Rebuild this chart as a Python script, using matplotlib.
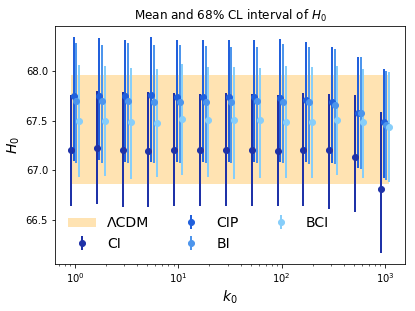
import numpy as np
import matplotlib
matplotlib.use('Agg')
import matplotlib.pyplot as plt

# k0 grid (13 points, log spaced)
k0 = 10 ** np.arange(0, 3.01, 0.25)

# LCDM band
lcdm_low = 66.86
lcdm_high = 67.96

# CI
ci_mean = [67.20, 67.22, 67.20, 67.19, 67.20, 67.20, 67.20, 67.20, 67.19, 67.20, 67.20, 67.13, 66.81]
ci_low = [66.64, 66.66, 66.63, 66.63, 66.64, 66.64, 66.64, 66.64, 66.64, 66.64, 66.61, 66.58, 66.16]
ci_high = [67.76, 67.80, 67.79, 67.79, 67.78, 67.77, 67.78, 67.77, 67.76, 67.78, 67.77, 67.76, 67.59]

# CIP
cip_mean = [67.75, 67.75, 67.75, 67.76, 67.74, 67.74, 67.74, 67.74, 67.73, 67.71, 67.69, 67.58, 67.49]
cip_low = [67.09, 67.10, 67.08, 67.08, 67.08, 67.08, 67.08, 67.08, 67.08, 67.08, 67.07, 67.02, 66.92]
cip_high = [68.35, 68.34, 68.32, 68.35, 68.32, 68.32, 68.32, 68.32, 68.33, 68.30, 68.25, 68.15, 68.02]

# BI
bi_mean = [67.70, 67.70, 67.70, 67.69, 67.69, 67.69, 67.69, 67.70, 67.69, 67.69, 67.66, 67.58, 67.46]
bi_low = [67.07, 67.07, 67.07, 67.07, 67.07, 67.07, 67.07, 67.07, 67.07, 67.06, 67.06, 67.01, 66.90]
bi_high = [68.29, 68.27, 68.29, 68.27, 68.27, 68.26, 68.25, 68.25, 68.28, 68.25, 68.23, 68.15, 68.00]

# BCI
bci_mean = [67.50, 67.50, 67.49, 67.48, 67.52, 67.51, 67.51, 67.51, 67.49, 67.49, 67.51, 67.49, 67.44]
bci_low = [66.93, 66.94, 66.91, 66.93, 66.95, 66.93, 66.91, 66.92, 66.92, 66.92, 66.95, 66.92, 66.88]
bci_high = [68.06, 68.05, 68.03, 68.02, 68.07, 68.04, 68.04, 68.03, 68.05, 68.04, 68.05, 68.02, 67.99]

series = [
    ('CI', ci_mean, ci_low, ci_high, '#1f32a8', -0.04),
    ('CIP', cip_mean, cip_low, cip_high, '#2160dc', -0.0133),
    ('BI', bi_mean, bi_low, bi_high, '#4d95ec', 0.0133),
    ('BCI', bci_mean, bci_low, bci_high, '#87cefa', 0.04),
]

fig = plt.figure(figsize=(415 / 72, 311 / 72), dpi=72)
ax = fig.add_axes([55 / 415, 1 - 264 / 311, 350 / 415, 238 / 311])

x_min = k0[0] * 10 ** series[0][5]
x_max = k0[-1] * 10 ** series[-1][5]
ax.fill_between([x_min, x_max], lcdm_low, lcdm_high, color='orange', alpha=0.3,
                linewidth=0, label='ΛCDM')

for name, mean, low, high, color, shift in series:
    mean = np.array(mean)
    err = [mean - np.array(low), np.array(high) - mean]
    ax.errorbar(k0 * 10 ** shift, mean, yerr=err, fmt='o', color=color,
                markersize=6, elinewidth=2, label=name)

ax.set_xscale('log')
ax.set_yticks([66.5, 67.0, 67.5, 68.0])
ax.set_xlabel('$k_0$', fontsize=14)
ax.set_ylabel('$H_0$', fontsize=14)
ax.set_title('Mean and 68% CL interval of $H_0$')
ax.legend(loc='lower left', ncol=3, fontsize=14, frameon=False)

fig.savefig('out.png', dpi=72)
